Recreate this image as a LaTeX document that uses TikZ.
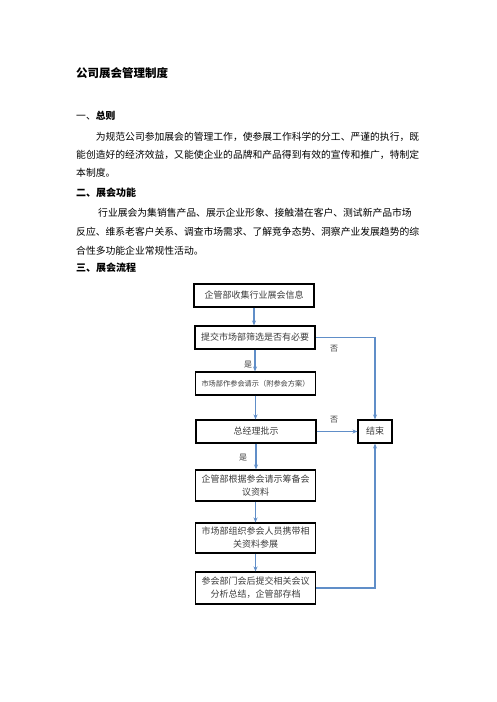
\documentclass[tikz,border=0pt]{standalone}
\usepackage{fontspec}
\setmainfont{Noto Sans CJK SC}
\usetikzlibrary{arrows.meta}
\definecolor{flowblue}{RGB}{96,142,200}
\definecolor{boxtext}{RGB}{60,60,60}
\tikzset{
  bodyline/.style={anchor=west,inner sep=0pt,font=\fontsize{9.8pt}{11pt}\selectfont},
  headline/.style={anchor=west,inner sep=0pt,font=\fontsize{10pt}{11pt}\selectfont\bfseries},
  fbox/.style={draw=black,line width=1.1pt,minimum width=120pt,inner sep=1pt,align=center,text=boxtext,font=\fontsize{9pt}{13pt}\selectfont},
  flow/.style={draw=flowblue,line width=1.1pt,-{Stealth[length=5pt,width=4pt]}},
  lbl/.style={inner sep=0pt,text=boxtext,font=\fontsize{8pt}{9pt}\selectfont}
}
\begin{document}
\begin{tikzpicture}[x=1pt,y=-1pt]
\useasboundingbox[fill=white] (0,0) rectangle (496,702);
% title and text
\node[anchor=west,inner sep=0pt,font=\fontsize{11.5pt}{12pt}\selectfont\bfseries] (title) at (76,73) {公司展会管理制度};
\node[bodyline] (h1) at (76,116) {一、{\bfseries 总则}};
\node[bodyline] (p1a) at (95.6,137) {为规范公司参加展会的管理工作，使参展工作科学的分工、严谨的执行，既};
\node[bodyline] (p1b) at (76,155) {能创造好的经济效益，又能使企业的品牌和产品得到有效的宣传和推广，特制定};
\node[bodyline] (p1c) at (76,172.5) {本制度。};
\node[headline] (h2) at (76,193) {二、展会功能};
\node[bodyline] (p2a) at (98,213) {行业展会为集销售产品、展示企业形象、接触潜在客户、测试新产品市场};
\node[bodyline] (p2b) at (76,232) {反应、维系老客户关系、调查市场需求、了解竞争态势、洞察产业发展趋势的综};
\node[bodyline] (p2c) at (76,251) {合性多功能企业常规性活动。};
\node[headline] (h3) at (76,268) {三、展会流程};
% flow chart
\node[fbox,minimum height=23pt] (b1) at (254,295.5) {企管部收集行业展会信息};
\node[fbox,minimum height=23pt] (b2) at (255,337.5) {提交市场部筛选是否有必要};
\node[fbox,minimum height=23pt,font=\fontsize{7.2pt}{9pt}\selectfont] (b3) at (255.5,383.5) {市场部作参会请示（附参会方案）};
\node[fbox,minimum height=23pt] (b4) at (256,431.5) {总经理批示};
\node[fbox,minimum height=31pt] (b5) at (255.5,485.5) {企管部根据参会请示筹备会\\议资料};
\node[fbox,minimum height=30pt] (b6) at (255.5,538) {市场部组织参会人员携带相\\关资料参展};
\node[fbox,minimum height=32pt] (b7) at (255.5,588) {参会部门会后提交相关会议\\分析总结，企管部存档};
\node[fbox,minimum width=34pt,minimum height=23pt] (end) at (375,431.5) {结束};
\coordinate (c1) at (375,337.5);
\coordinate (c2) at (375,588);
\draw[flow] (b1.south) -- (b1.south |- b2.north);
\draw[flow] (b2.south) -- (b2.south |- b3.north);
\draw[flow] (b3.south) -- (b3.south |- b4.north);
\draw[flow] (b4.south) -- (b4.south |- b5.north);
\draw[flow] (b5.south) -- (b5.south |- b6.north);
\draw[flow] (b6.south) -- (b6.south |- b7.north);
\draw[flow] (b2.east) -- (c1) -- (end.north);
\draw[flow] (b4.east) -- (end.west);
\draw[flow] (b7.east) -- (c2) -- (end.south);
\node[lbl] (n1) at (334,349) {否};
\node[lbl] (n2) at (334,420) {否};
\node[lbl] (y1) at (248,365) {是};
\node[lbl] (y2) at (243,458) {是};
\end{tikzpicture}
\end{document}
